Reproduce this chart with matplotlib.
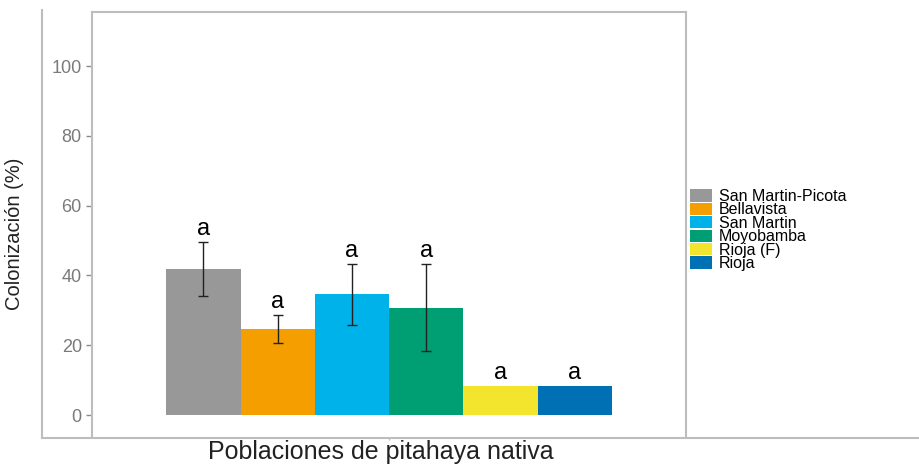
import numpy as np
import matplotlib
matplotlib.use("Agg")
import matplotlib.pyplot as plt
from matplotlib.lines import Line2D
from matplotlib.patches import Patch

plt.rcParams["font.family"] = ["Liberation Sans", "DejaVu Sans"]

poblaciones = ["San Martin-Picota", "Bellavista", "San Martin", "Moyobamba", "Rioja (F)", "Rioja"]
colonizacion = [41.8, 24.65, 34.55, 30.8, 8.4, 8.4]
desv = [7.7, 4.05, 8.75, 12.5, 0.0, 0.0]
letras = ["a", "a", "a", "a", "a", "a"]
colores = ["#989898", "#F59E00", "#00B2EA", "#009E73", "#F3E42D", "#0070B5"]
yticks = [0, 20, 40, 60, 80, 100]

fig = plt.figure(figsize=(9.19, 4.67), dpi=100)
ax = fig.add_axes([92 / 919, 1 - 437 / 467, 594 / 919, 425 / 467])

x = np.arange(len(poblaciones))
ax.bar(x, colonizacion, width=1.0, color=colores)

# error bars only where there is spread
con_err = [i for i, s in enumerate(desv) if s > 0]
ax.errorbar(x[con_err], [colonizacion[i] for i in con_err],
            yerr=[desv[i] for i in con_err], fmt="none",
            ecolor="#222222", elinewidth=1.0, capsize=3.5, capthick=1.0)

for xi, m, s, l in zip(x, colonizacion, desv, letras):
    ax.text(xi, m + s + 2, l, ha="center", va="baseline", fontsize=17, color="black")

ax.set_xlim(-1.5, 6.5)
ax.set_ylim(-6.3, 115.5)
ax.set_yticks(yticks)
ax.set_xticks([2.5])
ax.set_xticklabels([""])

grey = "#bdbdbd"
for side in ["left", "top", "right"]:
    ax.spines[side].set_color(grey)
    ax.spines[side].set_linewidth(1.5)
ax.spines["bottom"].set_visible(False)
ax.tick_params(axis="y", colors="#8a8a8a", labelsize=13, length=4.3, width=1.0, pad=3)
ax.tick_params(axis="x", colors="#bdbdbd", length=2, width=1.0)
for t in ax.get_yticklabels():
    t.set_color("#7a7a7a")

ax.set_ylabel("Colonización (%)", fontsize=14.5, color="#222222")
ax.yaxis.set_label_coords(-0.1145, 0.478)
ax.set_xlabel("Poblaciones de pitahaya nativa", fontsize=18, color="#222222")
ax.xaxis.set_label_coords(0.4857, -0.036)
ax.xaxis.label.set_verticalalignment("center")

# outer frame lines
fig.add_artist(Line2D([42 / 919, 42 / 919], [1 - 438 / 467, 1 - 10 / 467], color=grey, lw=1.5))
fig.add_artist(Line2D([42 / 919, 1.0], [1 - 437.5 / 467, 1 - 437.5 / 467], color=grey, lw=1.5))

handles = [Patch(facecolor=c, edgecolor="none") for c in colores]
fig.legend(handles, poblaciones, loc="center left", bbox_to_anchor=(687 / 919, 1 - 230 / 467),
           frameon=False, fontsize=11.5, labelspacing=-0.1, handleheight=0.8,
           handlelength=1.35, handletextpad=0.45, borderaxespad=0, borderpad=0.2)

fig.savefig("out.png", dpi=100)
